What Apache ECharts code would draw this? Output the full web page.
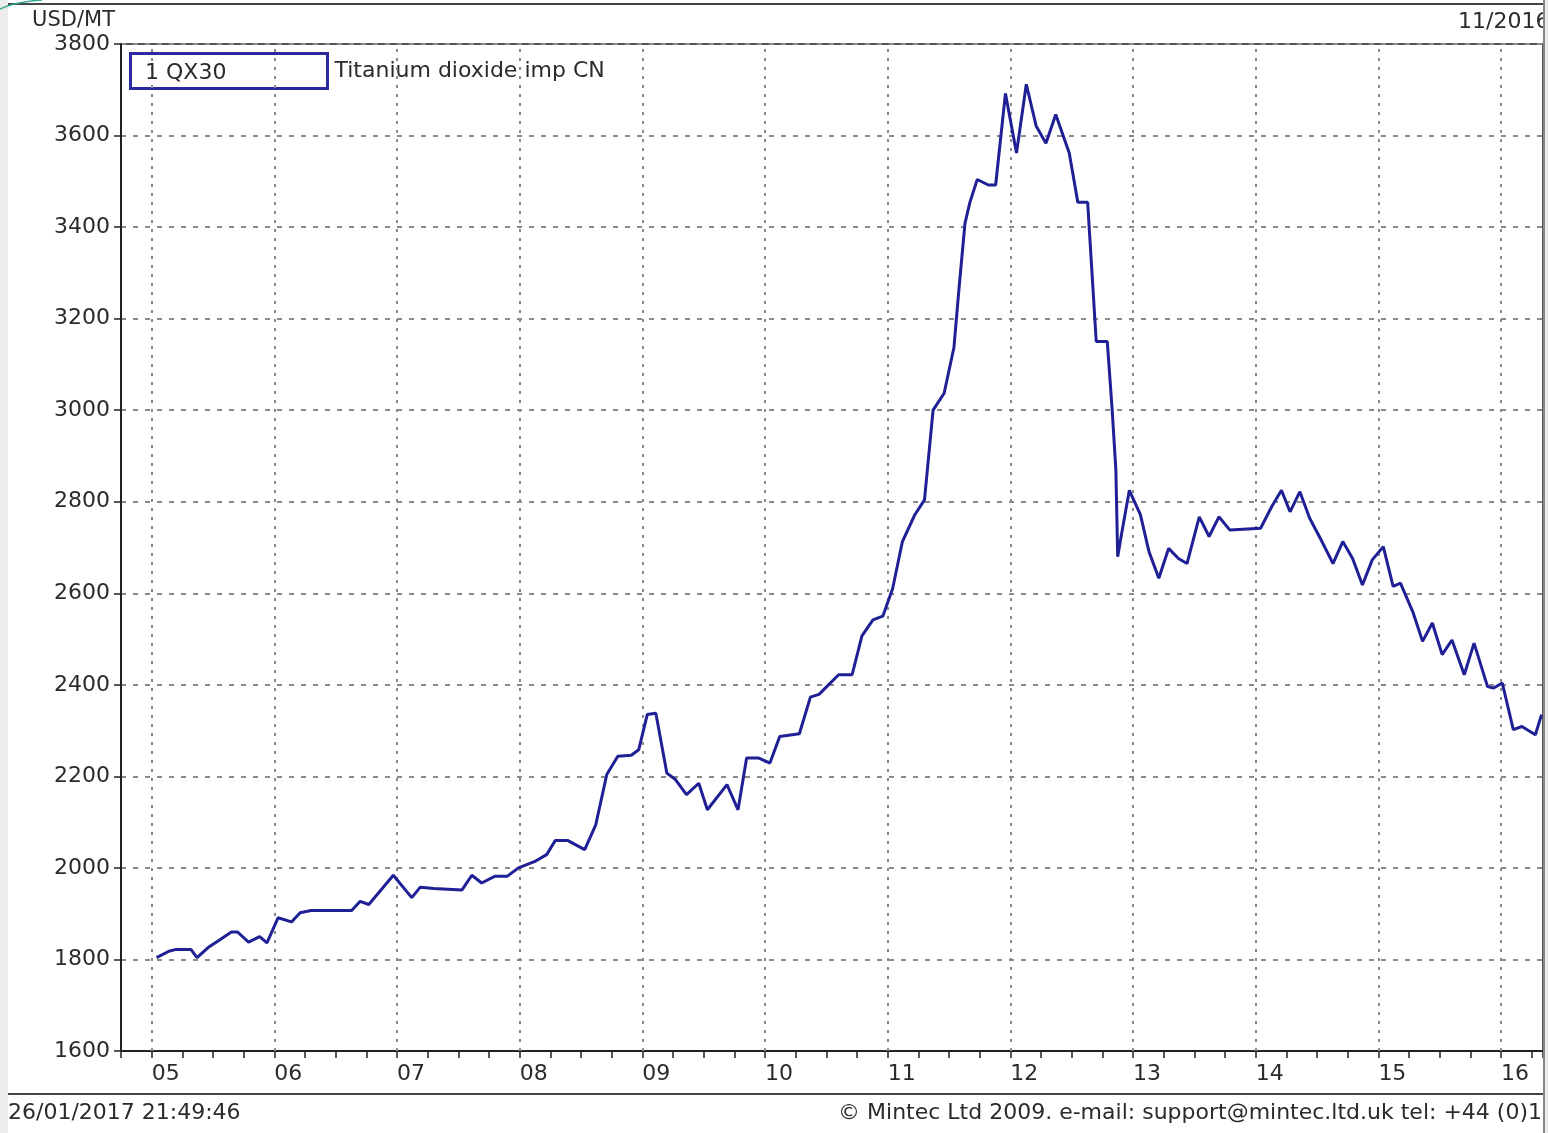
<!DOCTYPE html>
<html>
<head>
<meta charset="utf-8">
<script src="https://cdn.jsdelivr.net/npm/echarts@6/dist/echarts.min.js"></script>
<style>
html,body{margin:0;padding:0;background:#fff;}
#chart{width:1548px;height:1133px;}
</style>
</head>
<body>
<div id="chart"></div>
<script>
// ---- data (decimal year, USD/MT) ----
const dates = [
  2005.04, 2005.14, 2005.20, 2005.32, 2005.37, 2005.46, 2005.55, 2005.65, 2005.70, 2005.79,
  2005.88, 2005.94, 2006.03, 2006.14, 2006.21, 2006.30, 2006.63, 2006.70, 2006.77, 2006.97,
  2007.12, 2007.19, 2007.30, 2007.53, 2007.61, 2007.69, 2007.80, 2007.90, 2007.99, 2008.13,
  2008.22, 2008.29, 2008.39, 2008.53, 2008.62, 2008.71, 2008.80, 2008.91, 2008.97, 2009.04,
  2009.11, 2009.20, 2009.27, 2009.36, 2009.46, 2009.53, 2009.69, 2009.78, 2009.85, 2009.95,
  2010.04, 2010.12, 2010.28, 2010.37, 2010.44, 2010.60, 2010.71, 2010.79, 2010.88, 2010.96,
  2011.04, 2011.12, 2011.22, 2011.30, 2011.37, 2011.46, 2011.54, 2011.58, 2011.63, 2011.67,
  2011.73, 2011.82, 2011.88, 2011.96, 2012.05, 2012.13, 2012.21, 2012.29, 2012.37, 2012.48,
  2012.55, 2012.63, 2012.70, 2012.79, 2012.83, 2012.86, 2012.875, 2012.91, 2012.97, 2013.06,
  2013.13, 2013.21, 2013.29, 2013.37, 2013.44, 2013.54, 2013.62, 2013.70, 2013.79, 2014.04,
  2014.13, 2014.21, 2014.28, 2014.36, 2014.44, 2014.54, 2014.63, 2014.71, 2014.79, 2014.87,
  2014.95, 2015.04, 2015.12, 2015.18, 2015.28, 2015.36, 2015.44, 2015.52, 2015.60, 2015.70,
  2015.78, 2015.89, 2015.94, 2016.01, 2016.10, 2016.17, 2016.28, 2016.33
];
const prices = [
  1804, 1818, 1822, 1822, 1804, 1826, 1842, 1860, 1860, 1838,
  1850, 1836, 1891, 1882, 1902, 1907, 1907, 1927, 1920, 1984,
  1935, 1958, 1955, 1952, 1984, 1967, 1982, 1982, 2000, 2015,
  2029, 2060, 2060, 2040, 2094, 2204, 2244, 2246, 2258, 2335,
  2338, 2207, 2193, 2160, 2185, 2127, 2182, 2127, 2240, 2240,
  2229, 2287, 2293, 2373, 2379, 2422, 2422, 2507, 2542, 2550,
  2610, 2713, 2771, 2804, 3000, 3037, 3137, 3262, 3408, 3454,
  3504, 3492, 3492, 3692, 3562, 3712, 3621, 3583, 3646, 3562,
  3454, 3454, 3150, 3150, 3000, 2870, 2680, 2735, 2825, 2772,
  2691, 2633, 2698, 2676, 2665, 2767, 2724, 2767, 2738, 2742,
  2789, 2825, 2778, 2822, 2764, 2713, 2665, 2713, 2676, 2618,
  2673, 2702, 2615, 2622, 2560, 2495, 2535, 2466, 2498, 2422,
  2491, 2396, 2393, 2404, 2302, 2309, 2291, 2335
];
const years = [2005, 2006, 2007, 2008, 2009, 2010, 2011, 2012, 2013, 2014, 2015, 2016];
const yearLabels = ['05', '06', '07', '08', '09', '10', '11', '12', '13', '14', '15', '16'];
const seriesName = 'Titanium dioxide imp CN';
const seriesCode = '1 QX30';
const unitLabel = 'USD/MT';
const dateStamp = '11/2016';
const footerLeft = '26/01/2017 21:49:46';
const footerRight = '\u00A9 Mintec Ltd 2009. e-mail: support@mintec.ltd.uk tel: +44 (0)1';

const FONT = 'DejaVu Sans';
const TXT = '#2b2b2b';
const LINE = '#1f1f96';
const FS = 22;

const chart = echarts.init(document.getElementById('chart'), null, {renderer: 'canvas'});
const seriesData = dates.map((d, i) => [d, prices[i]]);

chart.setOption({
  animation: false,
  backgroundColor: '#ffffff',
  textStyle: {fontFamily: FONT},
  grid: {left: 121, right: 5, top: 44, bottom: 82, show: true, borderColor: '#555', borderWidth: 2, backgroundColor: 'transparent'},
  legend: {
    data: [seriesName],
    left: 129, top: 52, padding: 0,
    itemWidth: 197, itemHeight: 35, itemGap: 8,
    icon: 'rect',
    itemStyle: {color: '#ffffff', borderColor: '#2a2a9e', borderWidth: 3},
    textStyle: {fontFamily: FONT, fontSize: FS, color: TXT, padding: [4, 0, 0, 2]},
    selectedMode: false
  },
  xAxis: {
    type: 'value',
    min: 2004.75, max: 2016.342, interval: 0.25,
    axisLine: {show: true, lineStyle: {color: '#222', width: 2}},
    axisTick: {show: true, length: 7, lineStyle: {color: '#222', width: 1.5}},
    axisLabel: {
      color: TXT, fontFamily: FONT, fontSize: FS, margin: 12, align: 'left',
      showMinLabel: true, showMaxLabel: true, hideOverlap: false,
      formatter: v => {
        const r = Math.round(v * 100) / 100;
        const i = years.indexOf(r);
        return i >= 0 ? yearLabels[i] : '';
      }
    },
    splitLine: {show: false}
  },
  yAxis: {
    type: 'value',
    min: 1600, max: 3800, interval: 200,
    name: unitLabel,
    nameLocation: 'end',
    nameGap: 13,
    nameTextStyle: {color: TXT, fontFamily: FONT, fontSize: 21, align: 'right', padding: [0, 6, 0, 0]},
    axisLine: {show: true, lineStyle: {color: '#222', width: 2}},
    axisTick: {show: true, length: 7, lineStyle: {color: '#222', width: 1.5}},
    axisLabel: {color: TXT, fontFamily: FONT, fontSize: FS, margin: 11, formatter: v => String(v)},
    splitLine: {show: true, lineStyle: {color: '#8a8a8a', width: 2, type: [5, 7]}}
  },
  series: [{
    name: seriesName,
    type: 'line',
    data: seriesData,
    showSymbol: false,
    symbol: 'none',
    lineStyle: {color: LINE, width: 3},
    itemStyle: {color: LINE},
    markLine: {
      silent: true,
      symbol: 'none',
      label: {show: false},
      lineStyle: {color: '#8a8a8a', width: 2, type: [3, 6]},
      data: years.map(y => ({xAxis: y}))
    },
    z: 5
  }],
  graphic: [
    {type: 'rect', left: 0, top: 0, z: 100, shape: {width: 8, height: 1133}, style: {fill: '#ececec'}, silent: true},
    {type: 'line', z: 100, shape: {x1: 8, y1: 4, x2: 1544, y2: 4}, style: {stroke: '#444', lineWidth: 2}, silent: true},
    {type: 'line', z: 100, shape: {x1: 8, y1: 1094, x2: 1544, y2: 1094}, style: {stroke: '#444', lineWidth: 2}, silent: true},
    {type: 'line', z: 100, shape: {x1: 1544, y1: 0, x2: 1544, y2: 1133}, style: {stroke: '#888', lineWidth: 2}, silent: true},
    {type: 'rect', z: 100, left: 1545, top: 0, shape: {width: 3, height: 1133}, style: {fill: '#ececec'}, silent: true},
    {type: 'bezierCurve', z: 100, shape: {x1: 0, y1: 9, x2: 42, y2: 0, cpx1: 14, cpy1: 2}, style: {stroke: '#2aa58a', lineWidth: 1.5, fill: null}, silent: true},
    {type: 'text', z: 100, left: 145, top: 62, style: {text: seriesCode, font: FS + 'px "DejaVu Sans"', fill: TXT}, silent: true},
    {type: 'text', z: 99, left: 1458, top: 11, style: {text: dateStamp, font: FS + 'px "DejaVu Sans"', fill: TXT}, silent: true},
    {type: 'text', z: 100, left: 8, top: 1102, style: {text: footerLeft, font: FS + 'px "DejaVu Sans"', fill: TXT}, silent: true},
    {type: 'text', z: 100, right: 6, top: 1102, style: {text: footerRight, font: FS + 'px "DejaVu Sans"', fill: TXT}, silent: true}
  ]
});
</script>
</body>
</html>
